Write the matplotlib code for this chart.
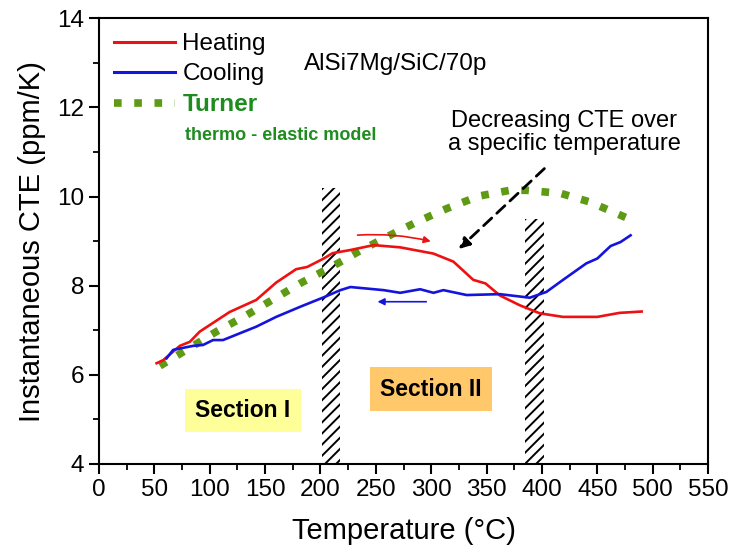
import matplotlib
matplotlib.use('Agg')
import matplotlib.pyplot as plt
from matplotlib.lines import Line2D
from matplotlib.ticker import MultipleLocator

plt.rcParams['font.family'] = ['Liberation Sans', 'DejaVu Sans']
plt.rcParams['hatch.linewidth'] = 1.4

# Heating curve (temperature in C, CTE in ppm/K)
heat_T = [52, 58, 73, 82, 91, 118, 142, 160, 178, 188, 203, 211, 227, 248,
          272, 302, 320, 338, 349, 362, 380, 398, 419, 450, 470, 490]
heat_cte = [6.26, 6.33, 6.65, 6.74, 6.97, 7.41, 7.68, 8.07, 8.37, 8.42, 8.61,
            8.73, 8.80, 8.91, 8.86, 8.72, 8.54, 8.13, 8.05, 7.78, 7.56, 7.38,
            7.30, 7.30, 7.39, 7.42]

# Cooling curve
cool_T = [61, 67, 85, 94, 103, 112, 127, 142, 160, 182, 193, 204, 218, 227,
          257, 272, 290, 302, 311, 332, 362, 389, 404, 419, 440, 450, 462,
          471, 480]
cool_cte = [6.37, 6.56, 6.65, 6.67, 6.78, 6.78, 6.93, 7.08, 7.30, 7.53, 7.64,
            7.75, 7.90, 7.97, 7.90, 7.84, 7.92, 7.84, 7.90, 7.79, 7.81, 7.73,
            7.86, 8.13, 8.50, 8.61, 8.89, 8.98, 9.13]

# Turner thermo-elastic model
turner_T = [55, 81, 106, 132, 157, 183, 209, 222, 234, 261, 287, 314, 343,
            371, 386, 417, 443, 471, 485]
turner_cte = [6.20, 6.59, 6.97, 7.32, 7.69, 8.07, 8.41, 8.59, 8.76, 9.11,
              9.43, 9.73, 10.01, 10.14, 10.14, 10.07, 9.88, 9.58, 9.43]

# Hatched transition zones
zone_left = [201, 385]
zone_width = [17, 17]
zone_top = [10.2, 9.5]

red = '#ee1111'
blue = '#1414dd'
green_line = '#5e9a14'
green_text = '#1e8c1e'

fig, ax = plt.subplots(figsize=(7.3, 5.53), dpi=100)
fig.subplots_adjust(left=0.1356, right=0.970, bottom=0.161, top=0.967)

# transition zones
ax.bar(zone_left, [t - 4 for t in zone_top], width=zone_width, bottom=4,
       align='edge', fill=False, hatch='///', edgecolor='black', linewidth=0,
       zorder=1)

ax.plot(heat_T, heat_cte, color=red, lw=1.9, zorder=3)
ax.plot(cool_T, cool_cte, color=blue, lw=1.9, zorder=3)
ax.plot(turner_T, turner_cte, color=green_line, lw=5.5, linestyle=':',
        zorder=2)

# direction arrows
ax.annotate('', xy=(302, 8.98), xytext=(231, 9.13),
            arrowprops=dict(arrowstyle='-|>', color=red, lw=1.2,
                            mutation_scale=10,
                            connectionstyle='arc3,rad=-0.08'))
ax.annotate('', xy=(249, 7.64), xytext=(298, 7.64),
            arrowprops=dict(arrowstyle='-|>', color=blue, lw=1.2,
                            mutation_scale=10))
ax.annotate('', xy=(323, 8.78), xytext=(404, 10.67),
            arrowprops=dict(arrowstyle='-|>', color='black', lw=2,
                            linestyle=(0, (4, 2.5)), mutation_scale=16))

ax.text(420, 11.44, 'Decreasing CTE over\na specific temperature',
        ha='center', va='center', fontsize=17, linespacing=1.05)
ax.text(0.337, 0.897, 'AlSi7Mg/SiC/70p', transform=ax.transAxes,
        ha='left', va='center', fontsize=17.5)

# section labels
ax.text(130, 5.2, 'Section I', ha='center', va='center', fontsize=16.5,
        fontweight='bold',
        bbox=dict(boxstyle='square,pad=0.45', fc='#ffff99', ec='none'))
ax.text(300, 5.68, 'Section II', ha='center', va='center', fontsize=16.5,
        fontweight='bold',
        bbox=dict(boxstyle='square,pad=0.45', fc='#ffc86a', ec='none'))

# legend
handles = [Line2D([], [], color=red, lw=2.2),
           Line2D([], [], color=blue, lw=2.2),
           Line2D([], [], color=green_line, lw=5.5, linestyle=':')]
leg = ax.legend(handles, ['Heating', 'Cooling', 'Turner'], loc='upper left',
                bbox_to_anchor=(0.025, 0.966), frameon=False, fontsize=17.5,
                handlelength=2.5, handletextpad=0.3, labelspacing=0.33,
                borderpad=0, borderaxespad=0)
leg.get_texts()[2].set_color(green_text)
leg.get_texts()[2].set_fontweight('bold')
ax.text(0.141, 0.736, 'thermo - elastic model', transform=ax.transAxes,
        ha='left', va='center', fontsize=13, fontweight='bold',
        color=green_text)

ax.set_xlim(0, 550)
ax.set_ylim(4, 14)
ax.xaxis.set_major_locator(MultipleLocator(50))
ax.xaxis.set_minor_locator(MultipleLocator(25))
ax.yaxis.set_major_locator(MultipleLocator(2))
ax.yaxis.set_minor_locator(MultipleLocator(1))
ax.tick_params(which='major', direction='out', length=7, width=1.5,
               labelsize=17.5)
ax.tick_params(which='minor', direction='out', length=4, width=1.3)
for s in ax.spines.values():
    s.set_linewidth(1.5)

ax.set_xlabel('Temperature (°C)', fontsize=21, labelpad=12)
ax.set_ylabel('Instantaneous CTE (ppm/K)', fontsize=21, labelpad=8)

plt.savefig('out.png', dpi=100)
